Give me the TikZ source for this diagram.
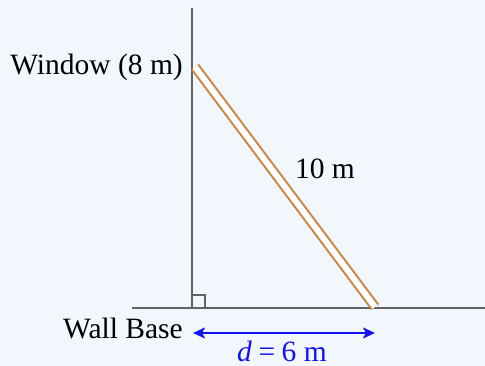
\documentclass[tikz,border=0pt]{standalone}
\usepackage{fontspec}
\setmainfont{Liberation Serif}
\usetikzlibrary{arrows.meta}
\definecolor{bg}{RGB}{242,247,253}
\definecolor{ladder}{RGB}{200,132,62}
\definecolor{wallgray}{RGB}{100,100,100}
\definecolor{dimblue}{RGB}{20,20,240}
\begin{document}
\begin{tikzpicture}[x=1pt,y=-1pt,
  lbl/.style={font=\fontsize{29.5}{34}\selectfont, inner sep=0pt},
  wallline/.style={draw=wallgray, line width=2pt},
  ladderline/.style={draw=ladder, line width=2pt, double=white, double distance=6pt},
  dimline/.style={draw=dimblue, line width=2pt, {Stealth[length=12pt,width=11pt,inset=3pt]}-{Stealth[length=12pt,width=11pt,inset=3pt]}}]
\fill[bg] (0,0) rectangle (485,366);
\useasboundingbox (0,0) rectangle (485,366);
\coordinate (wtop) at (192,8);
\coordinate (corner) at (192,308);
\coordinate (gl) at (132,308);
\coordinate (gr) at (485,308);
\coordinate (ltop) at (195,67);
\coordinate (lbot) at (375,307);
\draw[wallline] (wtop) -- (corner);
\draw[wallline] (gl) -- (gr);
\draw[draw=wallgray, line width=1.2pt] (192,295) -- (205,295) -- (205,308);
\draw[ladderline] (ltop) -- (lbot);
\node[lbl, anchor=east] (win) at (183,67) {Window (8 m)};
\node[lbl] (len) at (325,169) {10 m};
\node[lbl, anchor=east] (base) at (183,328) {Wall Base};
\coordinate (da) at (193,333);
\coordinate (db) at (375,333);
\draw[dimline] (da) -- (db);
\node[lbl, text=dimblue] (dl) at (282,351) {\textit{d}\hspace{0.22em}=\hspace{0.22em}6 m};
\end{tikzpicture}
\end{document}
